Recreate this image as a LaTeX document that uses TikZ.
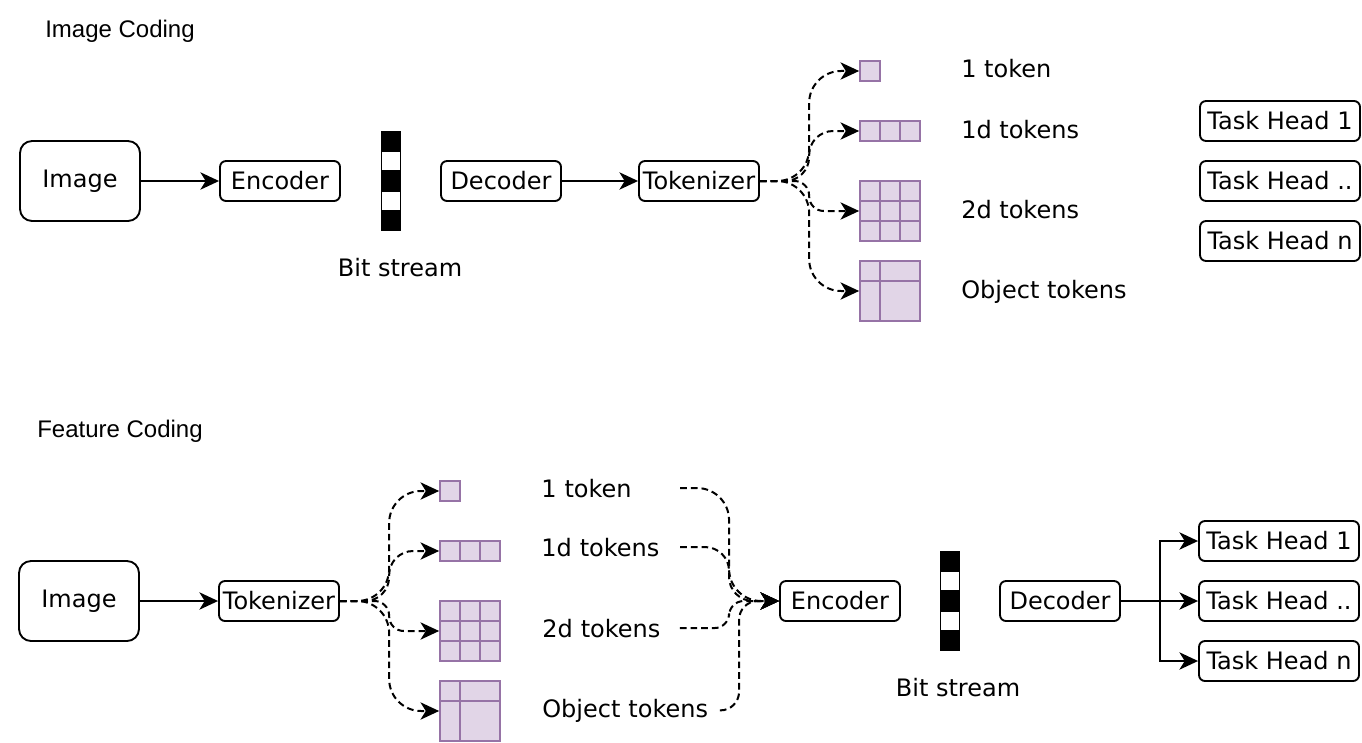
\documentclass[tikz,border=0pt]{standalone}
\usepackage{fontspec}
\setmainfont{DejaVu Sans}
\newfontfamily\titlefont{Liberation Sans}
\usepackage{tikz}
\usetikzlibrary{arrows.meta,calc}
\usepackage{xcolor}
\definecolor{tokpurple}{HTML}{9673A6}
\definecolor{tokfill}{HTML}{E1D5E7}

\begin{document}
\begin{tikzpicture}[x=0.75pt,y=-0.75pt,>={Stealth[length=14pt,width=13pt,inset=4pt]},
  font=\fontsize{18pt}{21pt}\selectfont,
  box/.style={draw,line width=1.4pt,rounded corners=4.5pt,minimum width=90pt,minimum height=30pt,inner sep=1pt},
  imgbox/.style={box,rounded corners=9pt,minimum height=60pt},
  headbox/.style={box,minimum width=120pt},
  cell/.style={draw=tokpurple,fill=tokfill,line width=1.3pt,inner sep=0pt},
  cellline/.style={tokpurple,line width=1.3pt},
  bitbar/.style={fill=black,minimum width=15pt,minimum height=75pt,inner sep=0pt},
  flow/.style={->,line width=1.5pt},
  dflow/.style={->,line width=1.5pt,dash pattern=on 5pt off 3pt},
  lbl/.style={anchor=base west,inner sep=0pt,align=left},
  title/.style={font=\titlefont\fontsize{18pt}{21pt}\selectfont}]
\useasboundingbox (0,0) rectangle (1362,742);

% image coding
\node[title] (ttl1) at (120,31) {Image Coding};
\node[imgbox] (img1) at (80,181) {Image};
\node[box] (enc1) at (280,181) {Encoder};
\node[bitbar] (bits1) at (391,181) {};
\fill[white] (382,152) rectangle (400,170);
\fill[white] (382,192) rectangle (400,210);
\node[anchor=base] (bitlbl1) at (400,276) {Bit stream};
\node[box] (dec1) at (501,181) {Decoder};
\node[box] (tok1) at (699,181) {Tokenizer};
\draw[flow] (img1) -- (enc1);
\draw[flow] (dec1) -- (tok1);

\node[cell,minimum width=15pt,minimum height=15pt] (one1) at (870,71) {};
\node[cell,minimum width=45pt,minimum height=15pt] (oned1) at (890,131) {};
\draw[cellline] (880,121) -- (880,141);
\draw[cellline] (900,121) -- (900,141);
\node[cell,minimum width=45pt,minimum height=45pt] (twod1) at (890,211) {};
\draw[cellline] (880,181) -- (880,241);
\draw[cellline] (900,181) -- (900,241);
\draw[cellline] (860,201) -- (920,201);
\draw[cellline] (860,221) -- (920,221);
\node[cell,minimum width=45pt,minimum height=45pt] (obj1) at (890,291) {};
\draw[cellline] (880,261) -- (880,321);
\draw[cellline] (860,281) -- (920,281);

\draw[dflow,rounded corners=24pt] (tok1.east) -| ($(one1.west)+(-50,0)$) -- (one1.west);
\draw[dflow,rounded corners=18pt] (tok1.east) -| ($(oned1.west)+(-50,0)$) -- (oned1.west);
\draw[dflow,rounded corners=11pt] (tok1.east) -| ($(twod1.west)+(-50,0)$) -- (twod1.west);
\draw[dflow,rounded corners=24pt] (tok1.east) -| ($(obj1.west)+(-50,0)$) -- (obj1.west);

\node[lbl] (lone1) at (961,78) {1 token};
\node[lbl] (loned1) at (961,138) {1d tokens};
\node[lbl] (ltwod1) at (961,218) {2d tokens};
\node[lbl] (lobj1) at (961,298) {Object tokens};

\node[headbox] (head1a) at (1280,121) {Task Head 1};
\node[headbox] (head1b) at (1280,181) {Task Head ..};
\node[headbox] (head1c) at (1280,241) {Task Head n};

% feature coding
\node[title] (ttl2) at (120,431) {Feature Coding};
\node[imgbox] (img2) at (79,601) {Image};
\node[box] (tok2) at (279,601) {Tokenizer};
\draw[flow] (img2) -- (tok2);

\node[cell,minimum width=15pt,minimum height=15pt] (one2) at (450,491) {};
\node[cell,minimum width=45pt,minimum height=15pt] (oned2) at (470,551) {};
\draw[cellline] (460,541) -- (460,561);
\draw[cellline] (480,541) -- (480,561);
\node[cell,minimum width=45pt,minimum height=45pt] (twod2) at (470,631) {};
\draw[cellline] (460,601) -- (460,661);
\draw[cellline] (480,601) -- (480,661);
\draw[cellline] (440,621) -- (500,621);
\draw[cellline] (440,641) -- (500,641);
\node[cell,minimum width=45pt,minimum height=45pt] (obj2) at (470,711) {};
\draw[cellline] (460,681) -- (460,741);
\draw[cellline] (440,701) -- (500,701);

\draw[dflow,rounded corners=24pt] (tok2.east) -| ($(one2.west)+(-50,0)$) -- (one2.west);
\draw[dflow,rounded corners=18pt] (tok2.east) -| ($(oned2.west)+(-50,0)$) -- (oned2.west);
\draw[dflow,rounded corners=11pt] (tok2.east) -| ($(twod2.west)+(-50,0)$) -- (twod2.west);
\draw[dflow,rounded corners=24pt] (tok2.east) -| ($(obj2.west)+(-50,0)$) -- (obj2.west);

\node[lbl,text width=104pt] (lone2) at (541,497) {1 token};
\node[lbl,text width=104pt] (loned2) at (541,556) {1d tokens};
\node[lbl,text width=103pt] (ltwod2) at (542,637) {2d tokens};
\node[lbl,text width=133pt] (lobj2) at (542,717) {Object tokens};

\node[box] (enc2) at (840,601) {Encoder};
\draw[dflow,rounded corners=24pt] (lone2.east) -| ($(enc2.west)+(-50,0)$) -- (enc2.west);
\draw[dflow,rounded corners=18pt] (loned2.east) -| ($(enc2.west)+(-50,0)$) -- (enc2.west);
\draw[dflow,rounded corners=11pt] (ltwod2.east) -| ($(enc2.west)+(-50,0)$) -- (enc2.west);
\draw[dflow,rounded corners=14pt] (lobj2.east) -| ($(enc2.west)+(-40,0)$) -- (enc2.west);

\node[bitbar] (bits2) at (950,601) {};
\fill[white] (941,572) rectangle (959,590);
\fill[white] (941,612) rectangle (959,630);
\node[anchor=base] (bitlbl2) at (958,696) {Bit stream};
\node[box] (dec2) at (1060,601) {Decoder};

\node[headbox] (head2a) at (1279,541) {Task Head 1};
\node[headbox] (head2b) at (1279,601) {Task Head ..};
\node[headbox] (head2c) at (1279,661) {Task Head n};
\coordinate (split2) at ($(dec2.east)!0.5!(head2b.west)$);
\draw[flow] (dec2.east) -- (head2b.west);
\draw[flow] (dec2.east) -- (split2) |- (head2a.west);
\draw[flow] (dec2.east) -- (split2) |- (head2c.west);
\end{tikzpicture}
\end{document}
